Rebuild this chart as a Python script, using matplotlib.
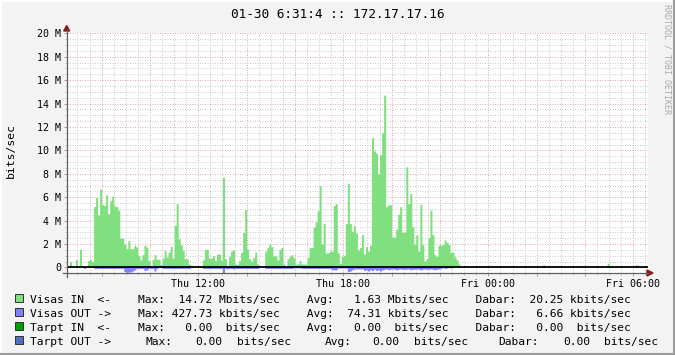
import numpy as np
import matplotlib
matplotlib.use('Agg')
from matplotlib import pyplot as plt
from matplotlib.ticker import MultipleLocator, FuncFormatter
from matplotlib.lines import Line2D
from matplotlib.patches import Rectangle, Polygon

W, H = 675, 355
plt.rcParams['font.family'] = 'DejaVu Sans Mono'

#5 minute samples from Thu 06:35, Mbit/s
t_start = 6 + 35 / 60.0
visas_in = [
    0.0, 0.5, 0.05, 0.05, 0.7, 0.15, 1.55, 0.1, 0.15, 0.0, 0.6, 0.7,
    0.5, 5.2, 6.0, 4.5, 6.7, 5.4, 5.3, 6.2, 4.6, 5.7, 6.1, 5.25,
    5.2, 4.9, 2.5, 2.5, 2.0, 1.6, 2.3, 1.6, 1.6, 1.9, 1.75, 1.0,
    0.65, 1.1, 1.9, 1.75, 0.6, 0.15, 0.7, 1.1, 0.7, 0.7, 0.25, 0.8,
    1.45, 0.9, 1.3, 1.8, 0.8, 3.6, 5.45, 2.45, 1.95, 1.45, 0.75, 0.75,
    0.3, 0.2, 0.15, 0.1, 0.05, 0.05, 0.1, 0.65, 1.55, 1.55, 0.8, 0.8,
    1.0, 0.6, 1.15, 1.15, 0.6, 7.7, 0.75, 0.15, 0.95, 1.4, 1.5, 0.3,
    0.25, 0.6, 1.3, 3.0, 4.95, 1.6, 0.75, 0.55, 0.85, 1.3, 0.3, 0.1,
    0.03, 0.0, 1.4, 1.7, 2.0, 1.8, 1.0, 1.0, 0.65, 1.55, 1.7, 0.3,
    0.15, 0.75, 0.95, 1.1, 0.85, 0.3, 0.3, 0.6, 0.3, 0.3, 0.3, 0.85,
    1.7, 1.7, 3.45, 3.9, 4.85, 7.0, 2.0, 3.75, 1.25, 1.25, 1.4, 1.4,
    5.3, 5.45, 1.25, 0.35, 0.95, 1.0, 3.75, 7.2, 3.75, 3.1, 3.55, 2.95,
    1.5, 1.7, 2.8, 1.15, 1.8, 1.4, 1.9, 11.1, 9.95, 9.75, 8.0, 9.65,
    11.5, 14.72, 5.2, 5.35, 5.35, 2.6, 2.6, 3.3, 4.55, 5.2, 3.0, 3.0,
    8.6, 5.45, 6.3, 3.5, 1.95, 2.8, 1.4, 5.4, 1.95, 0.55, 0.75, 2.55,
    4.9, 2.8, 1.1, 0.95, 1.9, 1.9, 1.95, 2.35, 2.15, 1.95, 1.3, 1.3,
    0.9, 0.65, 0.3, 0.05, 0.0, 0.1, 0.0, 0.0, 0.0, 0.0, 0.0, 0.0,
    0.0, 0.0, 0.0, 0.0, 0.0, 0.0, 0.0, 0.0, 0.0, 0.0, 0.0, 0.0,
    0.0, 0.0, 0.0, 0.0, 0.0, 0.0, 0.0, 0.0, 0.0, 0.0, 0.0, 0.0,
    0.0, 0.0, 0.0, 0.0, 0.0, 0.0, 0.0, 0.0, 0.25, 0.1, 0.0, 0.0,
    0.0, 0.0, 0.0, 0.0, 0.15, 0.0, 0.0, 0.0, 0.0, 0.0, 0.0, 0.0,
    0.0, 0.0, 0.0, 0.0, 0.0, 0.0, 0.0, 0.0, 0.0, 0.0, 0.0, 0.0,
    0.0, 0.0, 0.0, 0.0, 0.35, 0.0, 0.0, 0.0, 0.0, 0.0, 0.0, 0.0,
    0.0, 0.0, 0.0, 0.0, 0.0, 0.0, 0.25, 0.15, 0.02, 0.02, 0.02, 0.02,
]
visas_out = [
    0.0, 0.0, 0.0, 0.0, 0.0, 0.0, 0.0, 0.0, 0.08, 0.0, 0.0, 0.0,
    0.0, 0.08, 0.08, 0.08, 0.08, 0.08, 0.08, 0.08, 0.08, 0.08, 0.08, 0.08,
    0.08, 0.08, 0.08, 0.08, 0.35, 0.42, 0.4, 0.38, 0.3, 0.2, 0.08, 0.08,
    0.08, 0.08, 0.25, 0.2, 0.08, 0.08, 0.08, 0.3, 0.08, 0.0, 0.0, 0.08,
    0.08, 0.08, 0.08, 0.08, 0.08, 0.08, 0.08, 0.08, 0.08, 0.08, 0.08, 0.08,
    0.08, 0.0, 0.0, 0.0, 0.0, 0.0, 0.0, 0.08, 0.08, 0.08, 0.08, 0.08,
    0.08, 0.08, 0.08, 0.08, 0.08, 0.43, 0.08, 0.12, 0.08, 0.08, 0.12, 0.08,
    0.08, 0.08, 0.08, 0.08, 0.08, 0.08, 0.08, 0.08, 0.08, 0.08, 0.08, 0.0,
    0.0, 0.0, 0.08, 0.08, 0.08, 0.08, 0.08, 0.08, 0.08, 0.08, 0.08, 0.08,
    0.08, 0.08, 0.08, 0.08, 0.03, 0.03, 0.03, 0.03, 0.08, 0.08, 0.08, 0.08,
    0.08, 0.08, 0.08, 0.08, 0.08, 0.08, 0.08, 0.08, 0.08, 0.08, 0.08, 0.2,
    0.2, 0.2, 0.05, 0.05, 0.05, 0.05, 0.05, 0.35, 0.3, 0.2, 0.12, 0.12,
    0.12, 0.12, 0.12, 0.25, 0.2, 0.3, 0.2, 0.25, 0.15, 0.25, 0.2, 0.3,
    0.2, 0.15, 0.12, 0.2, 0.15, 0.12, 0.15, 0.2, 0.15, 0.12, 0.15, 0.15,
    0.15, 0.12, 0.2, 0.15, 0.15, 0.12, 0.15, 0.2, 0.15, 0.12, 0.15, 0.15,
    0.12, 0.15, 0.2, 0.15, 0.12, 0.08, 0.0, 0.08, 0.05, 0.0, 0.05, 0.0,
    0.0, 0.0, 0.0, 0.0, 0.0, 0.0, 0.0, 0.0, 0.0, 0.0, 0.0, 0.0,
    0.0, 0.0, 0.0, 0.0, 0.0, 0.0, 0.0, 0.0, 0.0, 0.0, 0.0, 0.0,
    0.0, 0.0, 0.0, 0.0, 0.0, 0.0, 0.0, 0.0, 0.0, 0.0, 0.0, 0.0,
    0.0, 0.0, 0.0, 0.0, 0.0, 0.0, 0.0, 0.0, 0.0, 0.0, 0.0, 0.0,
    0.0, 0.0, 0.0, 0.0, 0.0, 0.0, 0.0, 0.0, 0.0, 0.0, 0.0, 0.0,
    0.0, 0.0, 0.0, 0.0, 0.0, 0.0, 0.0, 0.0, 0.0, 0.0, 0.0, 0.0,
    0.0, 0.0, 0.0, 0.0, 0.0, 0.0, 0.0, 0.0, 0.0, 0.0, 0.0, 0.0,
    0.0, 0.0, 0.0, 0.0, 0.0, 0.0, 0.0, 0.0, 0.007, 0.007, 0.007, 0.007,
]

xtick_labels = {12: 'Thu 12:00', 18: 'Thu 18:00', 24: 'Fri 00:00', 30: 'Fri 06:00'}
title = '01-30 6:31:4 :: 172.17.17.16'

legend_names = ['Visas IN  <-', 'Visas OUT ->', 'Tarpt IN  <-', 'Tarpt OUT ->']
legend_max = ['14.72', '427.73', '0.00', '0.00']
legend_max_unit = ['Mbits/sec', 'kbits/sec', 'bits/sec', 'bits/sec']
legend_avg = ['1.63', '74.31', '0.00', '0.00']
legend_avg_unit = ['Mbits/sec', 'kbits/sec', 'bits/sec', 'bits/sec']
legend_cur = ['20.25', '6.66', '0.00', '0.00']
legend_cur_unit = ['kbits/sec', 'kbits/sec', 'bits/sec', 'bits/sec']
legend_colors = ['#80e080', '#8080ff', '#00a000', '#5070c8']


def fx(x):
    return x / W


def fy(y):
    return 1 - y / H


fig = plt.figure(figsize=(W / 100, H / 100), dpi=100)
fig.patch.set_facecolor('#f3f3f3')

#plot area in pixel coords: x 66.7..648, y 33.3..273
ax = fig.add_axes([fx(66.7), fy(273), (648 - 66.7) / W, (273 - 33.3) / H])
ax.set_facecolor('white')

n = len(visas_in)
t = t_start + np.arange(n + 1) / 12.0
vin = np.append(visas_in, visas_in[-1])
vout = -np.append(visas_out, visas_out[-1])
ax.fill_between(t, 0, vin, step='post', color=legend_colors[0], lw=0, zorder=3)
ax.fill_between(t, 0, vout, step='post', color=legend_colors[1], lw=0, zorder=3)
ax.axhline(0, color='black', lw=1.3, zorder=4)

ax.set_xlim(6.555, 30.606)
ax.set_ylim(-0.47, 20)

#grid: red every 2h / 2M, grey every 30 min / 0.5M
ax.xaxis.set_major_locator(MultipleLocator(2))
ax.xaxis.set_minor_locator(MultipleLocator(0.5))
ax.yaxis.set_major_locator(MultipleLocator(2))
ax.yaxis.set_minor_locator(MultipleLocator(0.5))
ax.xaxis.set_major_formatter(FuncFormatter(lambda v, p: xtick_labels.get(int(round(v)), '')))
ax.yaxis.set_major_formatter(FuncFormatter(lambda v, p: '0' if abs(v) < 1e-9 else '%d M' % round(v)))
ax.set_axisbelow(True)
ax.grid(which='minor', color='#cccccc', linestyle=(0, (1, 1.5)), linewidth=0.72, zorder=1)
ax.grid(which='major', color='#e8a8a8', linestyle=(0, (1, 1.5)), linewidth=0.72, zorder=2)

ax.tick_params(axis='both', which='major', labelsize=7.2, length=2.2, width=0.72, color='#d09090', pad=1.8)
ax.tick_params(axis='both', which='minor', length=1.5, width=0.72, color='#c4c4c4')
for s in ax.spines.values():
    s.set_visible(False)

#axes lines and arrows
fig.add_artist(Line2D([fx(66.7), fx(66.7)], [fy(277), fy(30)], color='#606060', lw=0.9))
fig.add_artist(Line2D([fx(63), fx(648)], [fy(273), fy(273)], color='#606060', lw=0.9))
fig.add_artist(Polygon([[fx(63.7), fy(31)], [fx(69.7), fy(31)], [fx(66.7), fy(25.5)]],
                       closed=True, color='#8b1a1a', transform=fig.transFigure))
fig.add_artist(Polygon([[fx(647), fy(270)], [fx(647), fy(276)], [fx(653), fy(273)]],
                       closed=True, color='#8b1a1a', transform=fig.transFigure))

#texts
fig.text(fx(338), fy(14), title, ha='center', va='center', fontsize=9.2)
fig.text(fx(11), fy(150), 'bits/sec', rotation=90, ha='center', va='center', fontsize=8.2)
fig.text(fx(667), fy(4), 'RRDTOOL / TOBI OETIKER', rotation=270, ha='center', va='top',
         fontsize=6, color='#aaaaaa')

#legend
row_y = [303.3, 317.3, 331.3, 345.3]
row4_x = [30, 145.7, 195, 237.3, 324.7, 372.3, 414.3, 498.7, 563, 603.7]
for k in range(4):
    y = row_y[k]
    fig.add_artist(Rectangle((fx(15.3), fy(y - 1.3)), 7.6 / W, 7.8 / H, facecolor=legend_colors[k],
                             edgecolor='#303030', lw=0.7, transform=fig.transFigure))
    if k < 3:
        row = '%-12s    Max:%7s %9s    Avg:%7s %9s    Dabar:%7s %9s' % (
            legend_names[k], legend_max[k], legend_max_unit[k], legend_avg[k],
            legend_avg_unit[k], legend_cur[k], legend_cur_unit[k])
        fig.text(fx(30), fy(y), row, fontsize=8.1, va='baseline')
    else:
        parts = [legend_names[k], 'Max:', legend_max[k], legend_max_unit[k], 'Avg:', legend_avg[k],
                 legend_avg_unit[k], 'Dabar:', legend_cur[k], legend_cur_unit[k]]
        for xp, s in zip(row4_x, parts):
            fig.text(fx(xp), fy(y), s, fontsize=8.1, va='baseline')

#frame
fig.add_artist(Line2D([0, 1], [fy(0.5), fy(0.5)], color='white', lw=1.5))
fig.add_artist(Line2D([fx(0.5), fx(0.5)], [0, 1], color='white', lw=1.5))
fig.add_artist(Line2D([0, 1], [fy(354), fy(354)], color='#9c9c9c', lw=1.5))
fig.add_artist(Line2D([fx(674), fx(674)], [0, 1], color='#9c9c9c', lw=1.5))

fig.savefig('out.png', dpi=100, facecolor=fig.get_facecolor())
